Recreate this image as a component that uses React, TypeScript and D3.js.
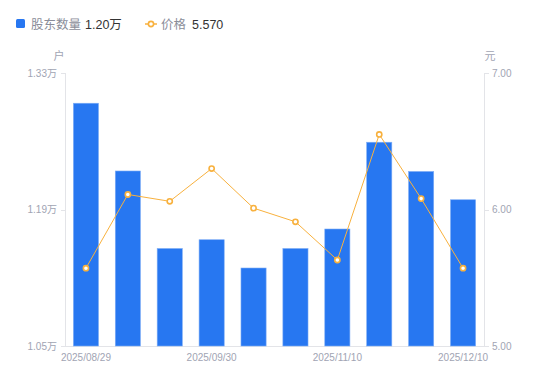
import React from "react";
import * as d3 from "d3";

const dates = [
  "2025/08/29", "2025/09/10", "2025/09/19", "2025/09/30", "2025/10/20",
  "2025/10/31", "2025/11/10", "2025/11/20", "2025/11/28", "2025/12/10",
];
const holders = [1.299, 1.2295, 1.15, 1.159, 1.13, 1.15, 1.17, 1.259, 1.229, 1.2];
const prices = [5.57, 6.11, 6.06, 6.30, 6.01, 5.91, 5.63, 6.55, 6.08, 5.57];
const leftTicks = [1.05, 1.19, 1.33];
const rightTicks = [5, 6, 7];
const shownDates = ["2025/08/29", "2025/09/30", "2025/11/10", "2025/12/10"];

const W = 550, H = 381;
const M = { left: 65, right: 484, top: 73, bottom: 346 };
const FONT = "'Liberation Sans', Arial, 'Noto Sans CJK SC', sans-serif";
const BLUE = "#2777f1";
const ORANGE = "#f8b13e";
const GREY = "#a1a4b3";
const AXIS = "#e3e4e8";

export default function App() {
  const x = d3.scaleBand<string>().domain(dates).range([M.left, M.right]).paddingInner(0.4).paddingOuter(0.2);
  const yL = d3.scaleLinear().domain([1.05, 1.33]).range([M.bottom, M.top]);
  const yR = d3.scaleLinear().domain([5, 7]).range([M.bottom, M.top]);
  const cx = (d: string) => (x(d) as number) + x.bandwidth() / 2;
  const line = d3.line<number>().x((_, i) => cx(dates[i])).y((v) => yR(v));

  return (
    <svg width={W} height={H} style={{ position: "absolute", left: 0, top: 0, fontFamily: FONT }}>
      {/* legend */}
      <rect x={16} y={19} width={9} height={9} rx={1.5} fill={BLUE} />
      <text x={31} y={28.5} fontSize={12.5} fill="#8a8d99">股东数量</text>
      <text x={85} y={28.5} fontSize={12.5} fill="#333">1.20万</text>
      <line x1={145} x2={157} y1={24} y2={24} stroke={ORANGE} strokeWidth={1.5} />
      <circle cx={151} cy={24} r={2.6} fill="#fff" stroke={ORANGE} strokeWidth={1.6} />
      <text x={161} y={28.5} fontSize={12.5} fill="#8a8d99">价格</text>
      <text x={192} y={28.5} fontSize={12.5} fill="#333">5.570</text>

      {/* units */}
      <text x={59} y={60} fontSize={11} fill={GREY} textAnchor="middle">户</text>
      <text x={490} y={60} fontSize={11} fill={GREY} textAnchor="middle">元</text>

      {/* axes */}
      <line x1={M.left + 0.5} x2={M.left + 0.5} y1={M.top} y2={M.bottom} stroke={AXIS} />
      <line x1={M.right + 0.5} x2={M.right + 0.5} y1={M.top} y2={M.bottom} stroke={AXIS} />
      <line x1={M.left} x2={M.right + 1} y1={M.bottom + 0.5} y2={M.bottom + 0.5} stroke={AXIS} />
      {leftTicks.map((t) => (
        <g key={"l" + t}>
          <line x1={M.left - 4} x2={M.left} y1={Math.round(yL(t)) + 0.5} y2={Math.round(yL(t)) + 0.5} stroke={AXIS} />
          <text x={M.left - 8} y={yL(t) + 3.5} fontSize={10} fill={GREY} textAnchor="end">{t.toFixed(2) + "万"}</text>
        </g>
      ))}
      {rightTicks.map((t) => (
        <g key={"r" + t}>
          <line x1={M.right} x2={M.right + 5} y1={Math.round(yR(t)) + 0.5} y2={Math.round(yR(t)) + 0.5} stroke={AXIS} />
          <text x={M.right + 8} y={yR(t) + 3.5} fontSize={10} fill={GREY}>{t.toFixed(2)}</text>
        </g>
      ))}
      {shownDates.map((d) => (
        <text key={d} x={cx(d)} y={361} fontSize={10} fill={GREY} textAnchor="middle">{d}</text>
      ))}

      {/* bars */}
      {holders.map((v, i) => (
        <rect key={i} x={x(dates[i])} y={yL(v)} width={x.bandwidth()} height={M.bottom - yL(v)}
          fill={BLUE} stroke="#7eadf6" strokeWidth={0.6} />
      ))}

      {/* price line */}
      <path d={line(prices) || ""} fill="none" stroke={ORANGE} strokeWidth={1} />
      {prices.map((v, i) => (
        <circle key={i} cx={cx(dates[i])} cy={yR(v)} r={2.6} fill="#fff" stroke={ORANGE} strokeWidth={1.6} />
      ))}
    </svg>
  );
}
